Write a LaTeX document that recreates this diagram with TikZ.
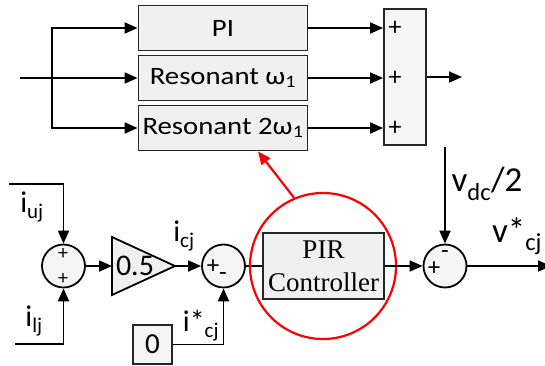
\documentclass[tikz,border=0pt]{standalone}
\usepackage{fontspec}
\setmainfont{Carlito}
\newfontfamily\blkfont[FakeStretch=1.15]{Carlito}
\newfontfamily\pirfont{Liberation Serif}
\usetikzlibrary{arrows.meta}

\begin{document}
\begin{tikzpicture}[
  x=1pt, y=-1pt,
  line width=1.8pt,
  >={Triangle[length=13pt,width=11pt]},
  blk/.style  = {draw=black!85, fill=black!6, line width=1.8pt,
                 minimum width=169pt, minimum height=45pt, inner sep=0pt,
                 font=\blkfont\fontsize{25}{28}\selectfont},
  sumc/.style = {circle, draw, fill=black!4, minimum size=43pt, inner sep=0pt},
  sgn/.style  = {inner sep=0pt, font=\fontsize{26}{26}\selectfont},
  lbl/.style  = {inner sep=0pt, font=\fontsize{30}{32}\selectfont},
]

%% ── Frame (1 unit = 1 px of the figure, y downwards) ─────────────────────────
\useasboundingbox (0,0) rectangle (545,365);

%% ── Lane y-coordinates ───────────────────────────────────────────────────────
\def\yPI{28}     % PI row
\def\yRa{78}     % Resonant w1 row
\def\yRb{128}    % Resonant 2w1 row
\def\yL{266}     % lower signal lane

%% ── PIR detail: parallel blocks ──────────────────────────────────────────────
\node[blk] (pi)   at (223,\yPI) {PI};
\node[blk] (res1) at (223,\yRa) {Resonant ω\textsubscript{1}};
\node[blk] (res2) at (223,\yRb) {Resonant 2ω\textsubscript{1}};

% Summing bar
\node[draw=black!85, fill=black!4, line width=1.8pt, minimum width=42pt,
      minimum height=136pt, inner sep=0pt] (sumbox) at (405,77) {};
\node[sgn] (pa) at (395,\yPI) {+};
\node[sgn] (pb) at (395,\yRa) {+};
\node[sgn] (pc) at (395,\yRb) {+};

% Input, branch and output
\coordinate (in)  at (20,\yRa);
\coordinate (br)  at (52,\yRa);
\coordinate (out) at (462,77);
\draw[->] (in) -- (res1.west);
\draw[->] (br) |- (pi.west);
\draw[->] (br) |- (res2.west);
\draw[->] (pi.east)   -- (pi.east -| sumbox.west);
\draw[->] (res1.east) -- (res1.east -| sumbox.west);
\draw[->] (res2.east) -- (res2.east -| sumbox.west);
\draw[->] (sumbox.east) -- (out);

%% ── Lower lane: circulating current loop ────────────────────────────────────
% Upper/lower arm currents
\node[sumc] (s1) at (63.5,\yL) {};
\node[sgn, font=\fontsize{20}{20}\selectfont] (s1a) at (63,\yL-12.5) {+};
\node[sgn, font=\fontsize{20}{20}\selectfont] (s1b) at (63,\yL+12.5) {+};
\coordinate (iuj) at (9,184);
\coordinate (ilj) at (15,344);
\draw[->] (iuj) -| (s1.north);
\draw[->] (ilj) -| (s1.south);
\node[lbl] (liuj) at (32,207) {i\textsubscript{uj}};
\node[lbl] (lilj) at (34,321) {i\textsubscript{lj}};

% Gain 0.5
\coordinate (gin)  at (112,\yL);
\coordinate (gtip) at (175,\yL);
\draw[fill=black!6] (112,\yL-29) -- (gtip) -- (112,\yL+29) -- cycle;
\node[lbl] (gain) at (135,\yL) {0.5};
\draw[->] (s1.east) -- (gin);
\node[lbl] (lic) at (184,236) {i\textsubscript{cj}};

% Reference comparison
\node[sumc] (s2) at (223.5,\yL) {};
\node[sgn, font=\fontsize{25}{25}\selectfont] (s2a) at (213,\yL+1) {+};
\node[sgn, font=\fontsize{25}{25}\selectfont] (s2b) at (223,\yL+11) {-};
\draw[->] (gtip) -- (s2.west);
\node[draw=black!85, fill=black!4, line width=1.8pt, minimum size=39pt,
      inner sep=0pt, font=\fontsize{29}{29}\selectfont] (zero) at (152.5,344.5) {0};
\draw[->] (zero.east) -| (s2.south);
\node[lbl] (licr) at (201,326) {i*\textsubscript{cj}};

% PIR controller, highlighted
\node[draw=black!85, fill=black!6, line width=1.8pt, minimum width=121pt,
      minimum height=66pt, inner sep=0pt, align=center,
      font=\pirfont\fontsize{27}{33}\selectfont] (pir) at (323.5,\yL) {PIR\\Controller};
\draw (s2.east) -- (pir.west);
\node[circle, draw=red, line width=2.2pt, minimum size=146pt] (ring) at (323,\yL) {};
\draw[->, red, line width=2.2pt] (ring.113) -- ([xshift=35pt]res2.south);

% DC offset
\node[sumc] (s3) at (445,\yL) {};
\node[sgn, font=\fontsize{25}{25}\selectfont] (s3a) at (434,\yL+3) {+};
\node[sgn, font=\fontsize{25}{25}\selectfont] (s3b) at (445,\yL-11) {-};
\coordinate (vdc)  at (445,147);
\coordinate (vout) at (551,\yL);
\draw[->] (pir.east) -- (s3.west);
\draw[->] (vdc) -- (s3.north);
\draw[->] (s3.east) -- (vout);
\node[lbl, font=\fontsize{35}{35}\selectfont] (lvdc) at (487,184) {v\textsubscript{dc}/2};
\node[lbl, font=\fontsize{35}{35}\selectfont] (lvcj) at (517,236) {v*\textsubscript{cj}};

\end{tikzpicture}
\end{document}
